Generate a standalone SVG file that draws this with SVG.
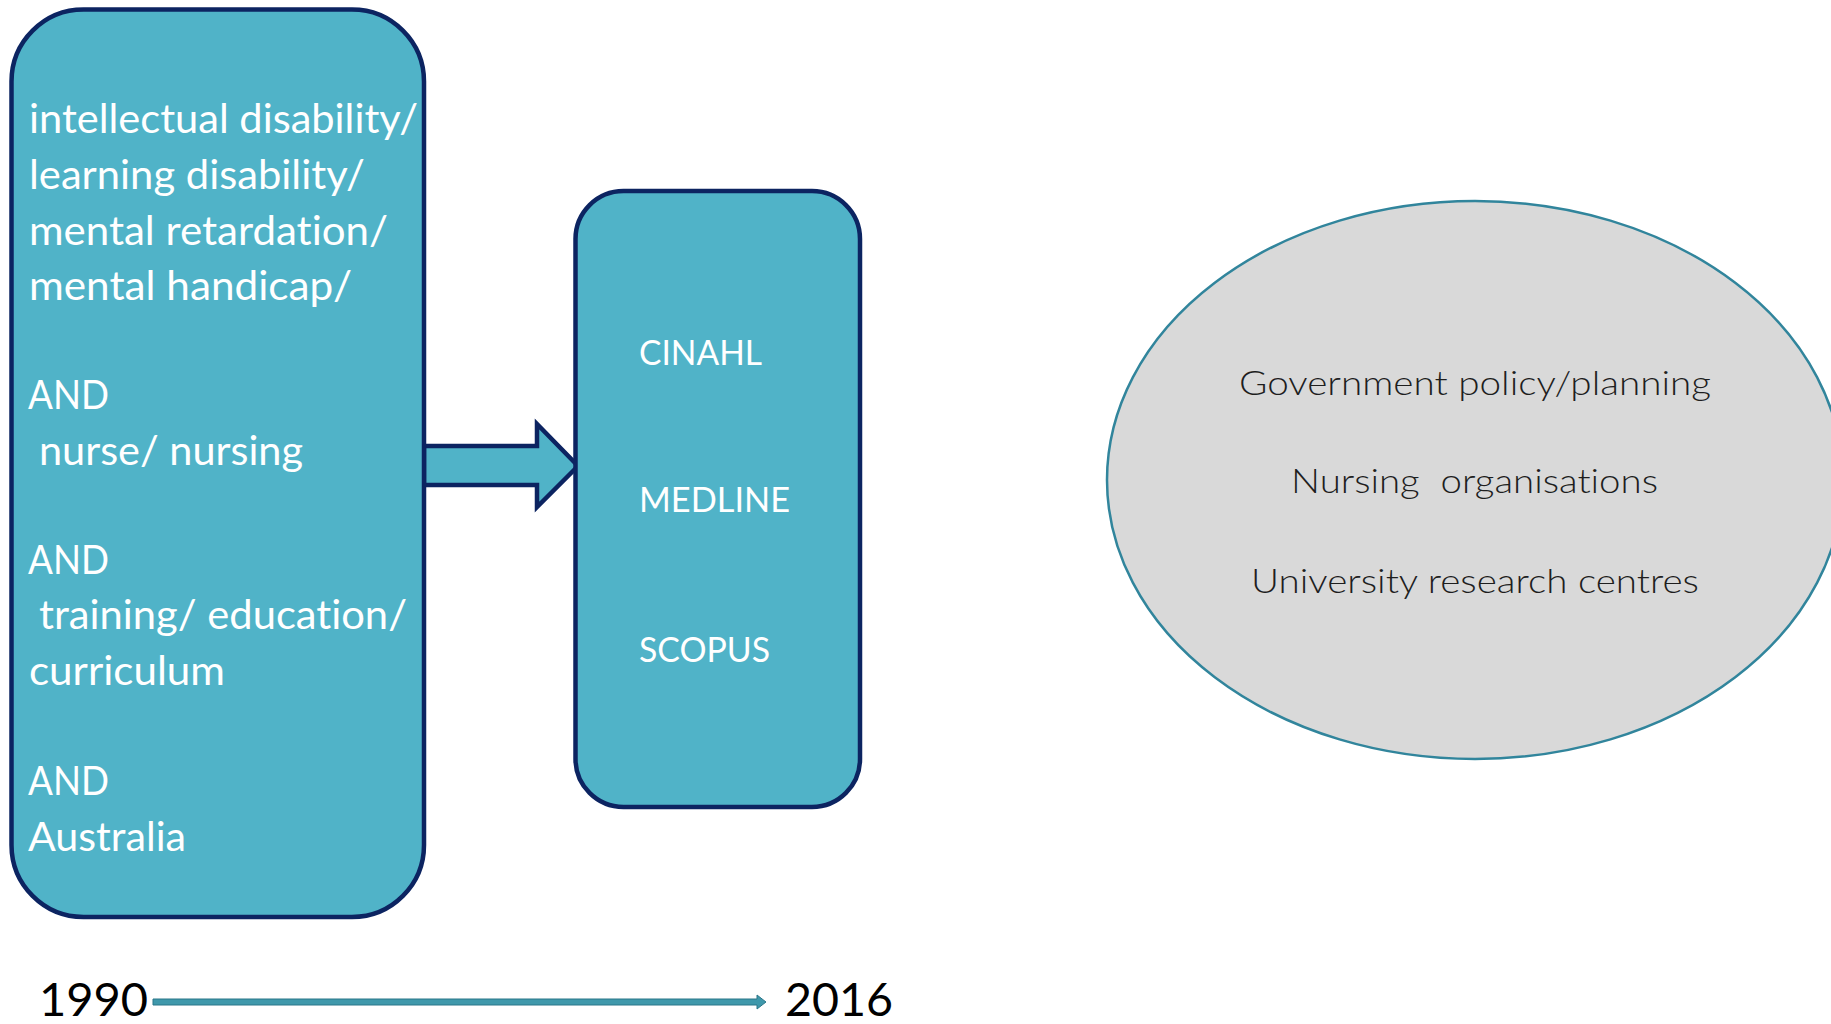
<svg xmlns="http://www.w3.org/2000/svg" width="1831" height="1024" viewBox="0 0 1831 1024">
<style>
text{font-family:Lato,"Open Sans","Liberation Sans",sans-serif;font-variant-ligatures:none;font-feature-settings:"liga" 0}
.box{fill:#50B3C8;stroke:#0C2461;stroke-width:4.5}
.wt{fill:#ffffff;font-size:41px}
.db{fill:#ffffff;font-size:35px}
.et{fill:#1e1e1e;font-weight:300;font-size:33px}
.yr{fill:#000000;font-size:47px}
</style>
<rect width="1831" height="1024" fill="#ffffff"/>
<g id="connectors">
  <polygon class="box" points="424,446 537,446 537,424 578,466 537,507 537,485 424,485"/>
  <polygon points="153,999 757,999 757,995 766,1002 757,1009 757,1005 153,1005" fill="#3F98AB" stroke="#2B7689" stroke-width="1"/>
</g>
<g id="search-terms">
  <rect class="box" x="11.5" y="9.5" width="412.5" height="907.5" rx="72" ry="72"/>
  <text class="wt" x="29" y="133" textLength="389" lengthAdjust="spacingAndGlyphs">intellectual disability/</text>
  <text class="wt" x="29" y="189" textLength="336" lengthAdjust="spacingAndGlyphs">learning disability/</text>
  <text class="wt" x="29" y="245" textLength="359" lengthAdjust="spacingAndGlyphs">mental retardation/</text>
  <text class="wt" x="29" y="300" textLength="323" lengthAdjust="spacingAndGlyphs">mental handicap/</text>
  <text class="wt" x="28" y="409" textLength="81" lengthAdjust="spacingAndGlyphs">AND</text>
  <text class="wt" x="39" y="465" textLength="264" lengthAdjust="spacingAndGlyphs">nurse/ nursing</text>
  <text class="wt" x="28" y="574" textLength="81" lengthAdjust="spacingAndGlyphs">AND</text>
  <text class="wt" x="39" y="629" textLength="368" lengthAdjust="spacingAndGlyphs">training/ education/</text>
  <text class="wt" x="29" y="685" textLength="196" lengthAdjust="spacingAndGlyphs">curriculum</text>
  <text class="wt" x="28" y="795" textLength="81" lengthAdjust="spacingAndGlyphs">AND</text>
  <text class="wt" x="28" y="851" textLength="158" lengthAdjust="spacingAndGlyphs">Australia</text>
</g>
<g id="databases">
  <rect class="box" x="575.5" y="191" width="284.5" height="616" rx="48" ry="48"/>
  <text class="db" x="639" y="365" textLength="123" lengthAdjust="spacingAndGlyphs">CINAHL</text>
  <text class="db" x="639" y="512" textLength="151" lengthAdjust="spacingAndGlyphs">MEDLINE</text>
  <text class="db" x="639" y="662" textLength="131" lengthAdjust="spacingAndGlyphs">SCOPUS</text>
</g>
<g id="sources">
  <ellipse cx="1475" cy="480" rx="368" ry="279" fill="#D9D9D9" stroke="#31859C" stroke-width="2.5"/>
  <text class="et" x="1239" y="395" textLength="472" lengthAdjust="spacingAndGlyphs">Government policy/planning</text>
  <text class="et" x="1291" y="493" textLength="367" lengthAdjust="spacingAndGlyphs" xml:space="preserve">Nursing  organisations</text>
  <text class="et" x="1251" y="593" textLength="448" lengthAdjust="spacingAndGlyphs">University research centres</text>
</g>
<g id="timeline">
  <text class="yr" x="39" y="1016" textLength="109" lengthAdjust="spacingAndGlyphs">1990</text>
  <text class="yr" x="785" y="1016" textLength="108" lengthAdjust="spacingAndGlyphs">2016</text>
</g>
</svg>
